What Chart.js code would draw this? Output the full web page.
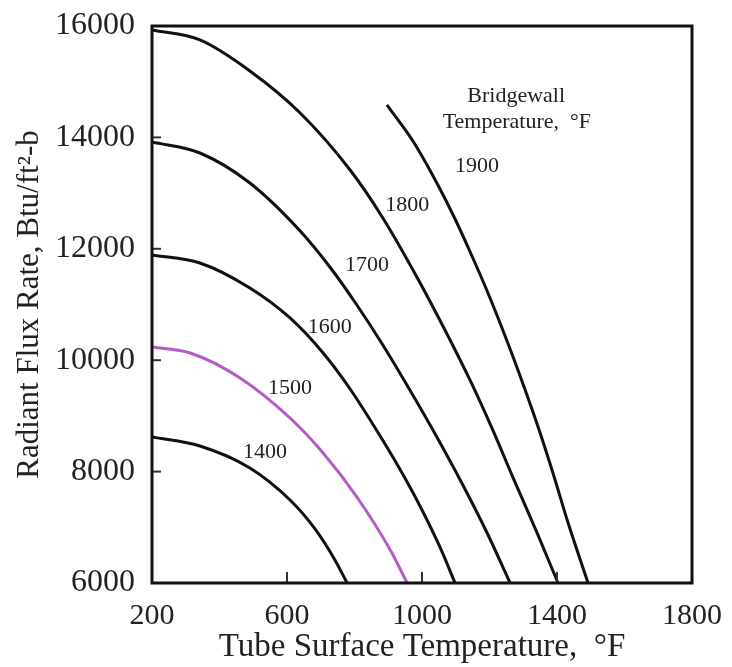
<!DOCTYPE html>
<html>
<head>
<meta charset="utf-8">
<script src="https://cdn.jsdelivr.net/npm/chart.js@4.4.1/dist/chart.umd.min.js"></script>
<style>
  html, body { margin: 0; padding: 0; background: #fff; }
</style>
</head>
<body>
<canvas id="fluxChart" width="732" height="667"></canvas>
<script>
// tick labels
var xTicks = [200, 600, 1000, 1400, 1800];
var yTicks = [6000, 8000, 10000, 12000, 14000, 16000];

// bridgewall temperatures (one curve each)
var bridgewall = ['1400', '1500', '1600', '1700', '1800', '1900'];

// tube surface temperature / radiant flux
var x1400 = [200, 342, 490, 609, 683, 742, 778];
var y1400 = [8621, 8460, 8065, 7490, 6970, 6413, 6000];

var x1500 = [200, 313, 461, 609, 707, 807, 906, 956];
var y1500 = [10237, 10129, 9681, 8962, 8334, 7544, 6593, 6000];

var x1600 = [200, 342, 490, 609, 707, 787, 876, 941, 994, 1053, 1098];
var y1600 = [11889, 11745, 11296, 10758, 10129, 9483, 8639, 7975, 7383, 6647, 6000];

var x1700 = [200, 342, 490, 639, 727, 807, 884, 964, 1044, 1121, 1193, 1261];
var y1700 = [13917, 13720, 13181, 12320, 11673, 10991, 10273, 9465, 8621, 7760, 6898, 6000];

var x1800 = [200, 342, 490, 639, 787, 884, 988, 1068, 1142, 1207, 1270, 1341, 1403];
var y1800 = [15928, 15749, 15192, 14438, 13415, 12554, 11459, 10543, 9646, 8784, 7887, 6899, 6000];

var x1900 = [896, 973, 1044, 1098, 1148, 1193, 1261, 1311, 1350, 1388, 1433, 1492];
var y1900 = [14582, 13935, 13181, 12535, 11871, 11242, 10201, 9375, 8693, 7975, 7077, 6000];

var serif = "'Liberation Serif', 'Times New Roman', serif";

function points(xs, ys) {
  return xs.map(function (x, i) { return { x: x, y: ys[i] }; });
}

function curve(label, xs, ys, color) {
  return {
    label: label,
    data: points(xs, ys),
    borderColor: color,
    borderWidth: 3,
    pointRadius: 0,
    fill: false,
    showLine: true,
    cubicInterpolationMode: 'monotone'
  };
}

// text written on the plot, placed in data units
var notes = [
  { text: 'Bridgewall', x: 1279, y: 14744 },
  { text: 'Temperature,  \u00B0F', x: 1281, y: 14277 },
  { text: bridgewall[5], x: 1163, y: 13487 },
  { text: bridgewall[4], x: 956, y: 12787 },
  { text: bridgewall[3], x: 837, y: 11710 },
  { text: bridgewall[2], x: 727, y: 10597 },
  { text: bridgewall[1], x: 609, y: 9502 },
  { text: bridgewall[0], x: 535, y: 8353 }
];

var framePlugin = {
  id: 'frame',
  afterDatasetsDraw: function (chart) {
    var ctx = chart.ctx, a = chart.chartArea;
    var sx = chart.scales.x, sy = chart.scales.y;
    ctx.save();

    // inner tick marks
    ctx.strokeStyle = '#333';
    ctx.lineWidth = 2;
    yTicks.slice(1, -1).forEach(function (v) {
      var py = sy.getPixelForValue(v);
      ctx.beginPath(); ctx.moveTo(a.left, py); ctx.lineTo(a.left + 9, py); ctx.stroke();
    });
    xTicks.slice(1, -1).forEach(function (v) {
      var px = sx.getPixelForValue(v);
      ctx.beginPath(); ctx.moveTo(px, a.bottom); ctx.lineTo(px, a.bottom - 11); ctx.stroke();
    });

    // box
    ctx.strokeStyle = '#111';
    ctx.lineWidth = 3;
    ctx.strokeRect(a.left, a.top, a.right - a.left, a.bottom - a.top);

    // labels
    ctx.fillStyle = '#222';
    ctx.font = '22px ' + serif;
    ctx.textAlign = 'center';
    ctx.textBaseline = 'middle';
    notes.forEach(function (n) {
      ctx.fillText(n.text, sx.getPixelForValue(n.x), sy.getPixelForValue(n.y));
    });
    ctx.restore();
  }
};

new Chart(document.getElementById('fluxChart').getContext('2d'), {
  type: 'scatter',
  data: {
    datasets: [
      curve(bridgewall[0], x1400, y1400, '#111'),
      curve(bridgewall[1], x1500, y1500, '#b55bc8'),
      curve(bridgewall[2], x1600, y1600, '#111'),
      curve(bridgewall[3], x1700, y1700, '#111'),
      curve(bridgewall[4], x1800, y1800, '#111'),
      curve(bridgewall[5], x1900, y1900, '#111')
    ]
  },
  options: {
    responsive: false,
    animation: false,
    devicePixelRatio: 1,
    layout: { padding: { top: 26, right: 40, left: 0, bottom: 0 } },
    plugins: {
      legend: { display: false },
      tooltip: { enabled: false }
    },
    scales: {
      x: {
        type: 'linear',
        min: xTicks[0],
        max: xTicks[xTicks.length - 1],
        grid: { display: false, drawTicks: false },
        border: { display: false },
        afterBuildTicks: function (s) { s.ticks = xTicks.map(function (v) { return { value: v }; }); },
        afterFit: function (s) {
          s.height = 84;
          s.paddingLeft = 0;
          s.paddingRight = 0;
        },
        ticks: {
          autoSkip: false,
          maxRotation: 0,
          padding: 15,
          color: '#222',
          font: { family: serif, size: 30 },
          callback: function (v) { return String(v); }
        },
        title: {
          display: true,
          text: 'Tube Surface Temperature,  \u00B0F',
          color: '#222',
          font: { family: serif, size: 33 },
          padding: { top: 0, bottom: 0 }
        }
      },
      y: {
        type: 'linear',
        min: yTicks[0],
        max: yTicks[yTicks.length - 1],
        grid: { display: false, drawTicks: false },
        border: { display: false },
        afterBuildTicks: function (s) { s.ticks = yTicks.map(function (v) { return { value: v }; }); },
        afterFit: function (s) {
          s.width = 152;
          s.paddingTop = 0;
          s.paddingBottom = 0;
        },
        ticks: {
          autoSkip: false,
          padding: 17,
          color: '#222',
          font: { family: serif, size: 32 },
          callback: function (v) { return String(v); }
        },
        title: {
          display: true,
          text: 'Radiant Flux Rate, Btu/ft\u00B2-b',
          color: '#222',
          font: { family: serif, size: 31 },
          padding: { top: 11, bottom: 0 }
        }
      }
    }
  },
  plugins: [framePlugin]
});
</script>
</body>
</html>
